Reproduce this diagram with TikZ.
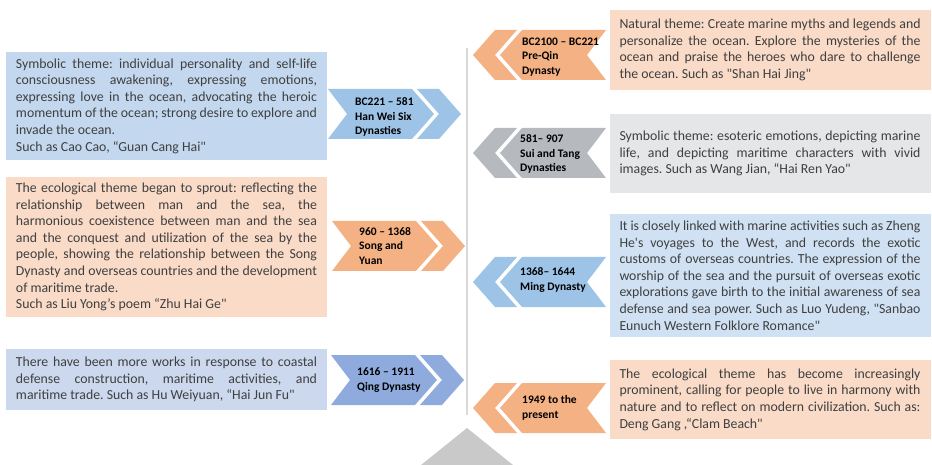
\documentclass[tikz,border=0pt]{standalone}
\usepackage{fontspec}
\setmainfont{Carlito}[Ligatures=TeXOff]
\usepackage{xcolor}
\usepackage{tikz}

\definecolor{bodytext}{HTML}{3F3F3F}
\definecolor{hanbox}{HTML}{C3D8EE}
\definecolor{peachbox}{HTML}{F9DBC8}
\definecolor{qingbox}{HTML}{CCD8EE}
\definecolor{suibox}{HTML}{E5E6E8}
\definecolor{mingbox}{HTML}{D0E1F3}
\definecolor{chevblue}{HTML}{9DC3E6}
\definecolor{chevorange}{HTML}{F4B183}
\definecolor{chevgray}{HTML}{B6B9BE}
\definecolor{chevqing}{HTML}{8FAADC}
\definecolor{spinegray}{HTML}{D9D9D9}
\definecolor{trigray}{HTML}{C9C9C9}

\setlength{\parindent}{0pt}
\hyphenpenalty=10000
\frenchspacing

\begin{document}
\begin{tikzpicture}[x=1pt, y=-1pt,
  themebox/.style={inner xsep=10pt, inner ysep=0pt, text width=301pt, align=justify,
    text=bodytext, font=\fontsize{13.8}{16.6}\selectfont},
  datelbl/.style={anchor=west, align=left, inner sep=0pt,
    font=\bfseries\fontsize{11.5}{14.5}\selectfont}]
\useasboundingbox (0,0) rectangle (932,465);
%--- Central spine ---
\draw[spinegray, line width=1.5pt] (467,48) -- (467,415);
\fill[trigray] (467,428) -- (513,465) -- (421,465) -- cycle;
%--- Left column: chevrons pointing right ---
\begin{scope}[shift={(328,114)}]
  \fill[chevblue] (0,-25) -- (84,-25) -- (106,0) -- (84,25) -- (0,25) -- (19,0) -- cycle;
  \fill[chevblue] (89,-25) -- (111,-25) -- (133,0) -- (111,25) -- (89,25) -- (111,0) -- cycle;
\end{scope}
\begin{scope}[shift={(332,246)}]
  \fill[chevorange] (0,-25) -- (84,-25) -- (106,0) -- (84,25) -- (0,25) -- (19,0) -- cycle;
  \fill[chevorange] (89,-25) -- (111,-25) -- (133,0) -- (111,25) -- (89,25) -- (111,0) -- cycle;
\end{scope}
\begin{scope}[shift={(331,380)}]
  \fill[chevqing] (0,-25) -- (84,-25) -- (106,0) -- (84,25) -- (0,25) -- (19,0) -- cycle;
  \fill[chevqing] (89,-25) -- (111,-25) -- (133,0) -- (111,25) -- (89,25) -- (111,0) -- cycle;
\end{scope}
%--- Right column: chevrons pointing left ---
\begin{scope}[shift={(606,55)}, xscale=-1]
  \fill[chevorange] (0,-25) -- (84,-25) -- (106,0) -- (84,25) -- (0,25) -- (19,0) -- cycle;
  \fill[chevorange] (89,-25) -- (111,-25) -- (133,0) -- (111,25) -- (89,25) -- (111,0) -- cycle;
\end{scope}
\begin{scope}[shift={(606,153)}, xscale=-1]
  \fill[chevgray] (0,-25) -- (84,-25) -- (106,0) -- (84,25) -- (0,25) -- (19,0) -- cycle;
  \fill[chevgray] (89,-25) -- (111,-25) -- (133,0) -- (111,25) -- (89,25) -- (111,0) -- cycle;
\end{scope}
\begin{scope}[shift={(606,282)}, xscale=-1]
  \fill[chevblue] (0,-25) -- (84,-25) -- (106,0) -- (84,25) -- (0,25) -- (19,0) -- cycle;
  \fill[chevblue] (89,-25) -- (111,-25) -- (133,0) -- (111,25) -- (89,25) -- (111,0) -- cycle;
\end{scope}
\begin{scope}[shift={(606,408)}, xscale=-1]
  \fill[chevorange] (0,-25) -- (84,-25) -- (106,0) -- (84,25) -- (0,25) -- (19,0) -- cycle;
  \fill[chevorange] (89,-25) -- (111,-25) -- (133,0) -- (111,25) -- (89,25) -- (111,0) -- cycle;
\end{scope}
% Period labels
\node[datelbl] (hanlbl) at (355,117) {BC221 – 581\\Han Wei Six\\Dynasties};
\node[datelbl] (songlbl) at (359,246) {960 – 1368\\Song and\\Yuan};
\node[datelbl] (qinglbl) at (357,380) {1616 – 1911\\Qing Dynasty};
\node[datelbl] (preqinlbl) at (522,57) {BC2100 – BC221\\Pre-Qin\\Dynasty};
\node[datelbl] (suilbl) at (520,154) {581– 907\\Sui and Tang\\Dynasties};
\node[datelbl] (minglbl) at (520,280) {1368– 1644\\Ming Dynasty};
\node[datelbl] (modernlbl) at (522,408) {1949 to the\\present};
%--- Theme boxes ---
\node[themebox, fill=hanbox, minimum height=108pt] (han) at (166.5,106) {Symbolic theme: individual personality and self-life\linebreak
consciousness awakening, expressing emotions,\linebreak
expressing love in the ocean, advocating the heroic\linebreak
momentum of the ocean; strong desire to explore and\linebreak
invade the ocean.\par
Such as Cao Cao, “Guan Cang Hai"};
\node[themebox, fill=peachbox, minimum height=140pt] (song) at (166.5,247) {The ecological theme began to sprout: reflecting the\linebreak
relationship between man and the sea, the\linebreak
harmonious coexistence between man and the sea\linebreak
and the conquest and utilization of the sea by the\linebreak
people, showing the relationship between the Song\linebreak
Dynasty and overseas countries and the development\linebreak
of maritime trade.\par
Such as Liu Yong’s poem “Zhu Hai Ge"};
\node[themebox, fill=qingbox, minimum height=61pt] (qing) at (166.5,379.5) {There have been more works in response to coastal\linebreak
defense construction, maritime activities, and\linebreak
maritime trade. Such as Hu Weiyuan, “Hai Jun Fu"};
\node[themebox, fill=peachbox, minimum height=80pt] (preqin) at (770,50) {Natural theme: Create marine myths and legends and\linebreak
personalize the ocean. Explore the mysteries of the\linebreak
ocean and praise the heroes who dare to challenge\linebreak
the ocean. Such as "Shan Hai Jing"};
\node[themebox, fill=suibox, minimum height=79pt] (sui) at (770,153.5) {Symbolic theme: esoteric emotions, depicting marine\linebreak
life, and depicting maritime characters with vivid\linebreak
images. Such as Wang Jian, “Hai Ren Yao"};
\node[themebox, fill=mingbox, minimum height=123pt] (ming) at (770,275.5) {It is closely linked with marine activities such as Zheng\linebreak
He's voyages to the West, and records the exotic\linebreak
customs of overseas countries. The expression of the\linebreak
worship of the sea and the pursuit of overseas exotic\linebreak
explorations gave birth to the initial awareness of sea\linebreak
defense and sea power. Such as Luo Yudeng, "Sanbao\linebreak
Eunuch Western Folklore Romance"};
\node[themebox, fill=peachbox, minimum height=79pt] (modern) at (770,399.5) {The ecological theme has become increasingly\linebreak
prominent, calling for people to live in harmony with\linebreak
nature and to reflect on modern civilization. Such as:\linebreak
Deng Gang ,“Clam Beach"};
\end{tikzpicture}
\end{document}
